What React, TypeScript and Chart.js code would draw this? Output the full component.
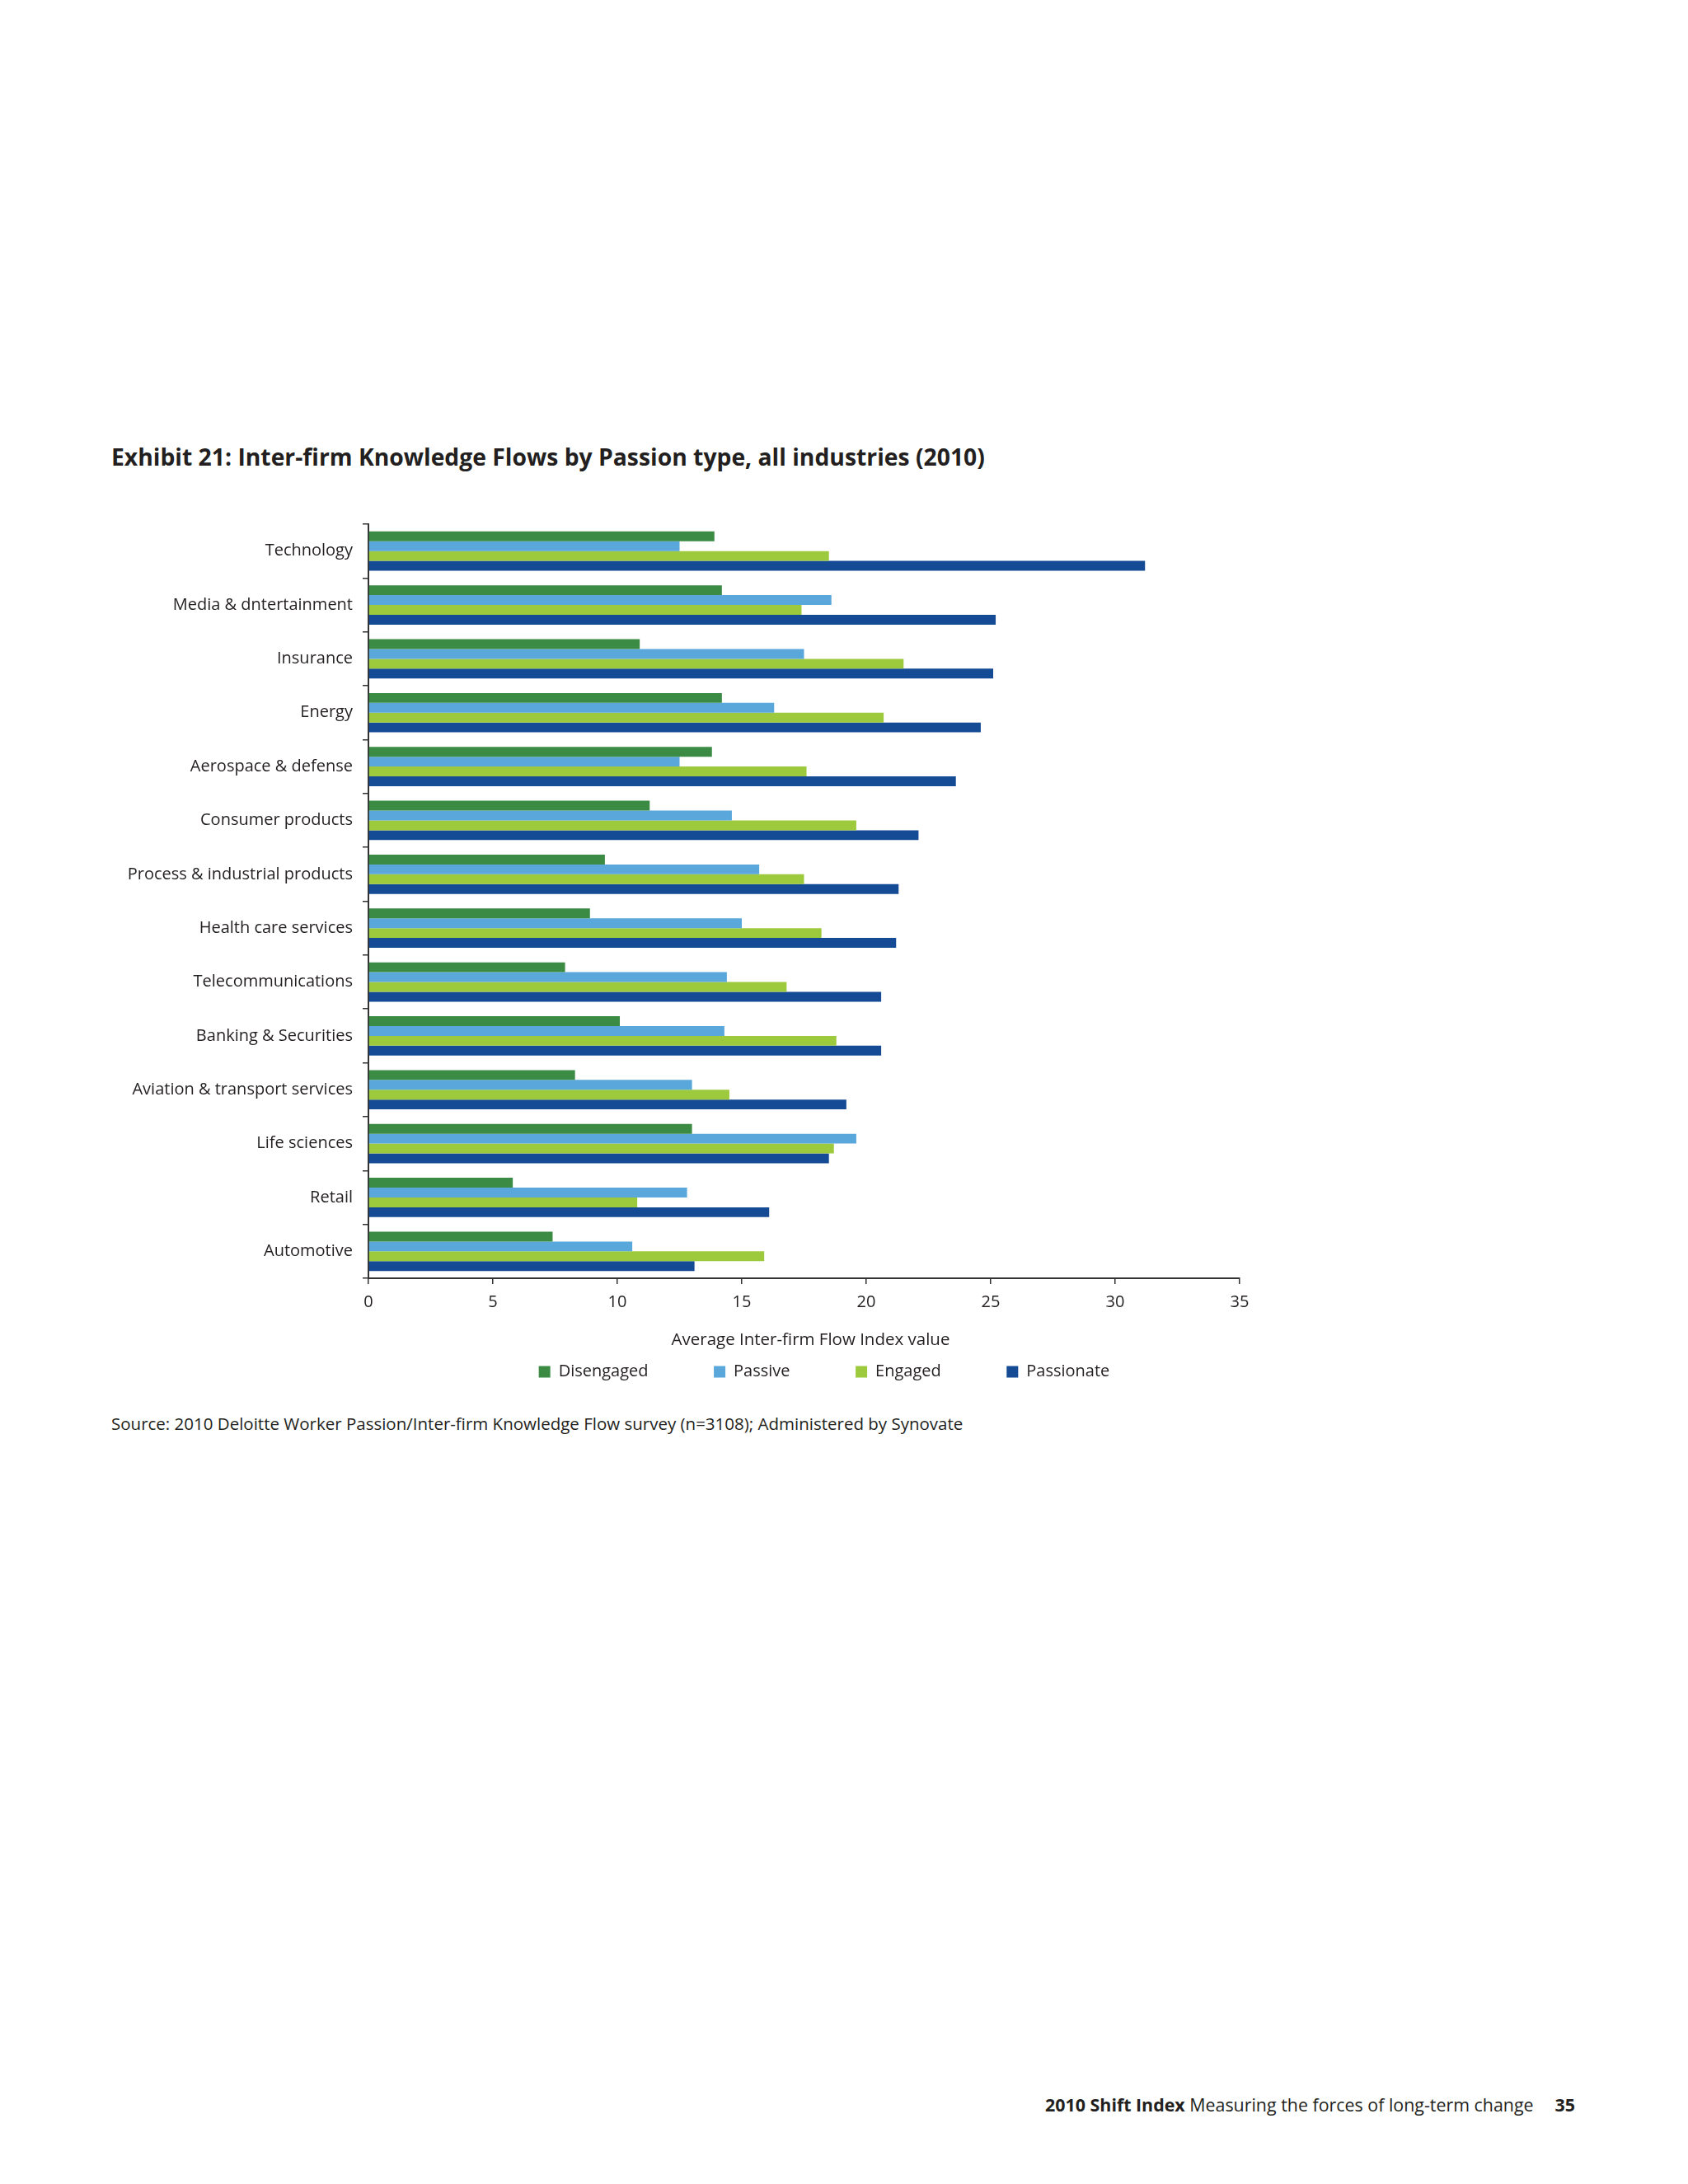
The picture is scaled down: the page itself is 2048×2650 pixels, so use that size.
import { useEffect, useRef } from 'react';
import Chart from 'chart.js/auto';

const industries = [
  'Technology',
  'Media & dntertainment',
  'Insurance',
  'Energy',
  'Aerospace & defense',
  'Consumer products',
  'Process & industrial products',
  'Health care services',
  'Telecommunications',
  'Banking & Securities',
  'Aviation & transport services',
  'Life sciences',
  'Retail',
  'Automotive',
];

const seriesNames = ['Disengaged', 'Passive', 'Engaged', 'Passionate'];
const seriesColors = ['#3b8b45', '#5aa7db', '#9dca3c', '#144b94'];

const disengaged = [13.9, 14.2, 10.9, 14.2, 13.8, 11.3, 9.5, 8.9, 7.9, 10.1, 8.3, 13.0, 5.8, 7.4];
const passive = [12.5, 18.6, 17.5, 16.3, 12.5, 14.6, 15.7, 15.0, 14.4, 14.3, 13.0, 19.6, 12.8, 10.6];
const engaged = [18.5, 17.4, 21.5, 20.7, 17.6, 19.6, 17.5, 18.2, 16.8, 18.8, 14.5, 18.7, 10.8, 15.9];
const passionate = [31.2, 25.2, 25.1, 24.6, 23.6, 22.1, 21.3, 21.2, 20.6, 20.6, 19.2, 18.5, 16.1, 13.1];

const xMin = 0;
const xMax = 35;
const xStep = 5;

const FONT = "'Open Sans', 'Noto Sans', sans-serif";
const TEXT = '#231f20';

export default function App() {
  const canvasRef = useRef<HTMLCanvasElement>(null);

  useEffect(() => {
    if (!canvasRef.current) return;
    Chart.defaults.font.family = FONT;
    Chart.defaults.color = TEXT;

    const values = [disengaged, passive, engaged, passionate];

    const chart = new Chart(canvasRef.current, {
      type: 'bar',
      data: {
        labels: industries,
        datasets: seriesNames.map((name, i) => ({
          label: name,
          data: values[i],
          backgroundColor: seriesColors[i],
          borderWidth: 0,
          categoryPercentage: 0.73,
          barPercentage: 1.0,
        })),
      },
      options: {
        indexAxis: 'y',
        animation: false,
        responsive: false,
        maintainAspectRatio: false,
        layout: { padding: { top: 36, bottom: 15.5, left: 0, right: 0 } },
        scales: {
          x: {
            min: xMin,
            max: xMax,
            ticks: { stepSize: xStep, padding: 10, font: { size: 20 }, color: TEXT },
            grid: { drawOnChartArea: false, drawTicks: true, tickLength: 7, color: '#333', lineWidth: 1.5 },
            border: { color: '#333', width: 2 },
            title: {
              display: true,
              text: '\u00a0\u00a0\u00a0Average Inter-firm Flow Index value',
              font: { size: 20.5 },
              color: TEXT,
              padding: { top: 4, bottom: 4.5 },
            },
            afterFit: (scale: any) => {
              scale.height = 91.5;
            },
          },
          y: {
            ticks: { padding: 12, font: { size: 20 }, color: TEXT },
            grid: { drawOnChartArea: false, drawTicks: true, tickLength: 7, color: '#333', lineWidth: 1.5 },
            border: { color: '#333', width: 2 },
            afterFit: (scale: any) => {
              scale.width = 312;
            },
          },
          yRight: {
            type: 'linear',
            position: 'right',
            display: true,
            grid: { display: false },
            ticks: { display: false },
            border: { display: false },
            afterFit: (scale: any) => {
              scale.width = 361;
            },
          },
        },
        plugins: {
          legend: {
            position: 'bottom',
            labels: {
              boxWidth: 14,
              boxHeight: 14,
              padding: 12,
              font: { size: 20 },
              color: TEXT,
              generateLabels: (c: any) =>
                Chart.defaults.plugins.legend.labels
                  .generateLabels(c)
                  .map((item: any, i: number, all: any[]) => ({
                    ...item,
                    text: i < all.length - 1 ? item.text + '\u00a0'.repeat(13) : item.text,
                  })),
            },
          },
          tooltip: { enabled: false },
        },
      },
    });

    return () => chart.destroy();
  }, []);

  const base: React.CSSProperties = {
    position: 'absolute',
    fontFamily: FONT,
    color: TEXT,
    lineHeight: 1.2,
    whiteSpace: 'nowrap',
    transform: 'translateY(-50%)',
  };

  return (
    <div style={{ position: 'relative', width: 2032, height: 2630, background: '#fff' }}>
      <div style={{ ...base, left: 127, top: 547, fontSize: 28.3, fontWeight: 700 }}>
        Exhibit 21: Inter-firm Knowledge Flows by Passion type, all industries (2010)
      </div>
      <canvas
        ref={canvasRef}
        width={1730}
        height={1100}
        style={{ position: 'absolute', left: 127, top: 592, width: 1730, height: 1100 }}
      />
      <div style={{ ...base, left: 127, top: 1719, fontSize: 20.5 }}>
        Source: 2010 Deloitte Worker Passion/Inter-firm Knowledge Flow survey (n=3108); Administered by Synovate
      </div>
      <div style={{ ...base, right: 129, top: 2546, fontSize: 21.4 }}>
        <b>2010 Shift Index</b> Measuring the forces of long-term change
        <b style={{ marginLeft: 26 }}>35</b>
      </div>
    </div>
  );
}
